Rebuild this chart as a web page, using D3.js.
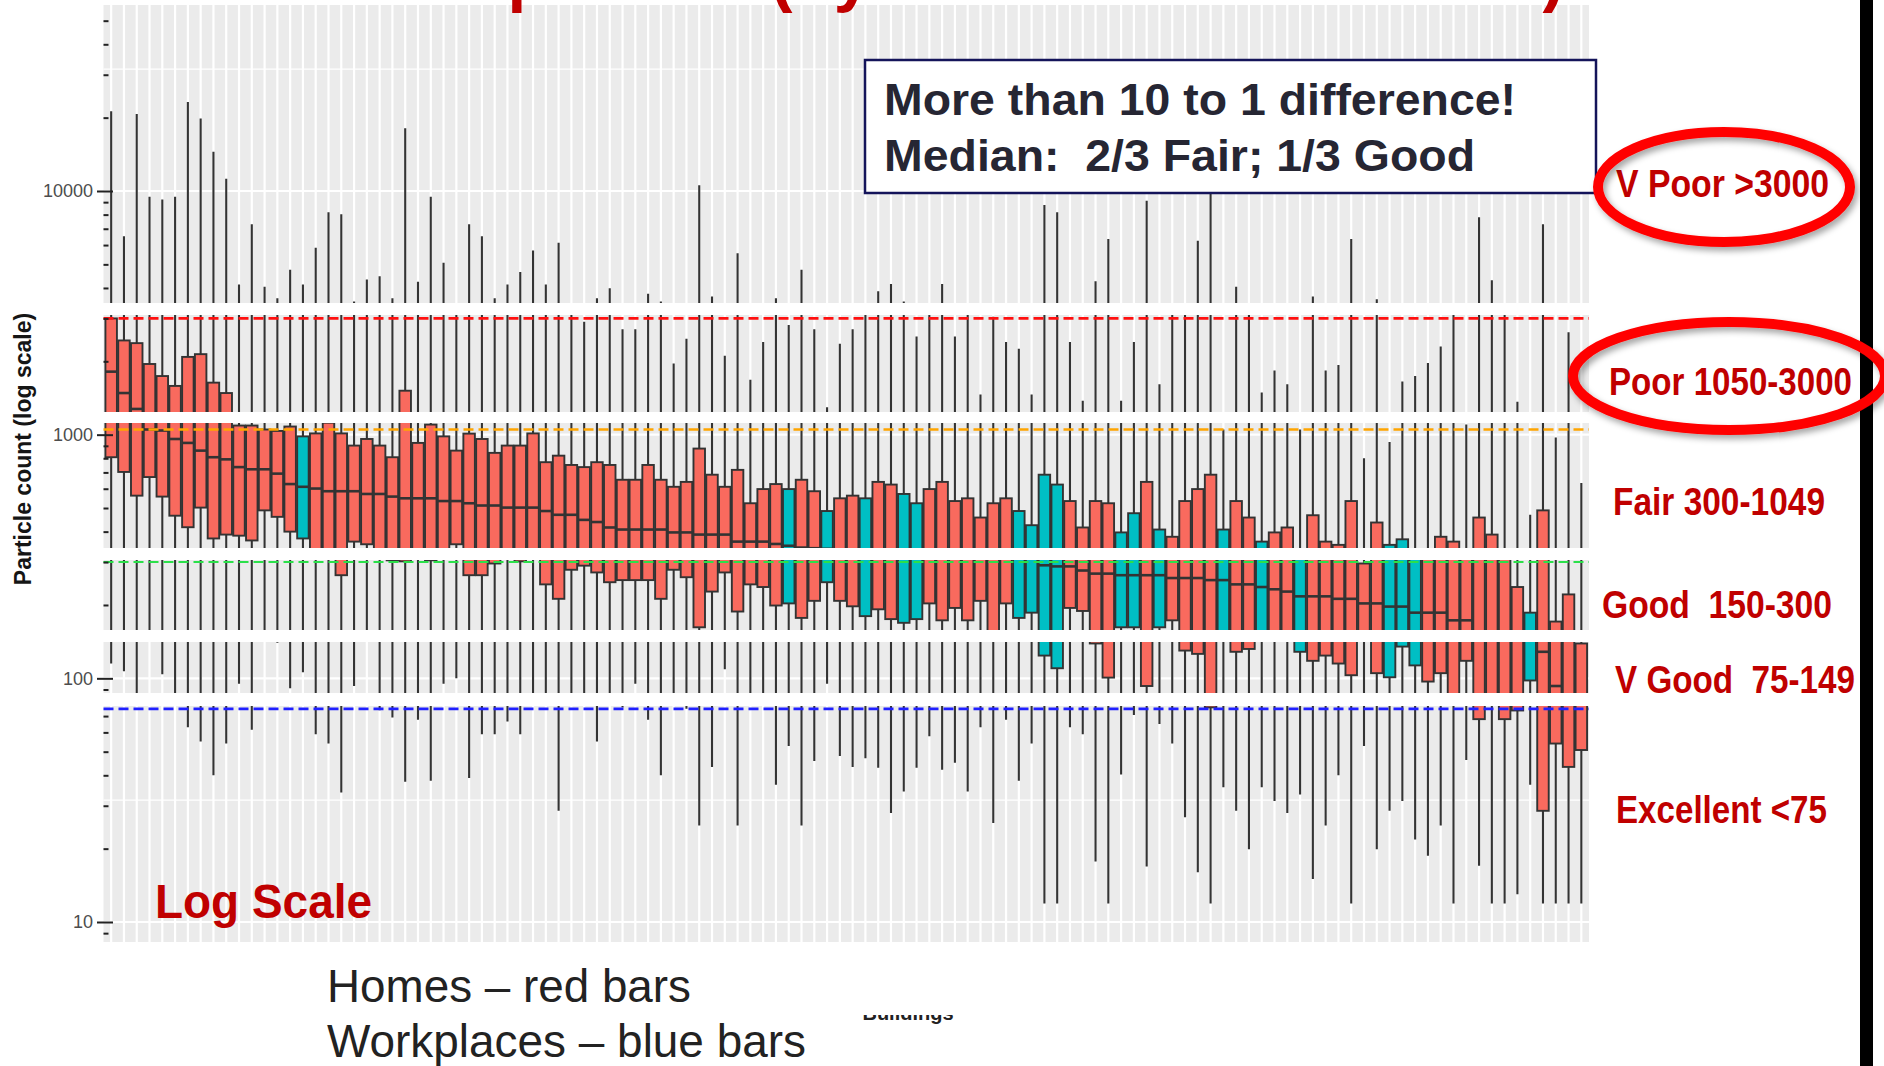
<!DOCTYPE html>
<html>
<head>
<meta charset="utf-8">
<script src="https://cdn.jsdelivr.net/npm/d3@7"></script>
<style>
  html, body { margin: 0; padding: 0; background: #fff; overflow: hidden; }
  svg { display: block; }
</style>
</head>
<body>
<svg id="chart" width="1884" height="1066"></svg>
<script>
// boxes, one per building, sorted by median particle count
// H = home (red), W = workplace (teal)
var siteType = ("HHHHHHHHHH" + "HHHHHWHHHH" + "HHHHHHHHHH" + "HHHHHHHHHH" + "HHHHHHHHHH" +
                "HHHWHHWHHW" + "HHWWHHHHHH" + "HWWWWHHHHW" + "WHWHHHHWHH" + "WHHWHHHHHH" +
                "WWWHHHHHHH" + "HWHHHH").split("");

var whiskerHigh = [21250, 6520, 20700, 9470, 9220, 9470, 23200, 19850, 14480, 11230,
  4130, 7310, 4045, 3630, 4750, 4130, 5850, 8190, 8020, 3520,
  4330, 4470, 3630, 18080, 4240, 9470, 5080, 3200, 7310, 6520,
  3630, 4130, 4650, 5700, 4130, 6130, 3150, 2905, 3630, 3985,
  2705, 2705, 3785, 3520, 1960, 2475, 10560, 3688, 2108, 5553,
  1679, 2399, 3630, 2818, 4750, 2705, 1295, 2362, 2705, 3250,
  3880, 4155, 3520, 2527, 3100, 4155, 2527, 3300, 1460, 3050,
  2399, 2254, 1460, 8760, 8190, 2399, 1378, 4265, 6350, 1378,
  2399, 9130, 1610, 3150, 3250, 6250, 12000, 1050, 4045, 3100,
  1490, 1832, 1610, 1050, 3688, 1832, 1930, 6350, 800, 3593,
  934, 1652, 1740, 1970, 2301, 3200, 1100, 7810, 4305, 3150,
  1365, 469, 7310, 974, 2633, 634];

var boxHigh = [3000, 2436, 2375, 1950, 1740, 1585, 2085, 2140, 1635, 1482,
  1090, 1090, 1050, 1036, 1080, 984, 1012, 1120, 1012, 902,
  960, 902, 808, 1515, 925, 1100, 984, 860, 1010, 960,
  842, 902, 902, 1012, 771, 820, 751, 736, 771, 751,
  653, 653, 751, 653, 611, 640, 877, 685, 611, 717,
  523, 598, 627, 598, 653, 586, 486, 548, 562, 548,
  640, 624, 571, 523, 598, 640, 534, 548, 457, 523,
  548, 486, 425, 685, 624, 534, 416, 534, 523, 397,
  476, 640, 408, 381, 534, 598, 685, 408, 534, 457,
  364, 397, 416, 330, 467, 364, 353, 534, 296, 436,
  353, 372, 320, 330, 381, 364, 320, 457, 389, 320,
  237, 186, 489, 171, 221, 139];

var medians = [1814, 1482, 1275, 1050, 1040, 960, 925, 860, 808, 792,
  736, 721, 721, 692, 627, 611, 601, 586, 586, 586,
  571, 571, 557, 548, 548, 548, 534, 534, 523, 512,
  512, 502, 502, 502, 486, 469, 469, 447, 438, 416,
  408, 408, 408, 408, 397, 397, 389, 389, 389, 364,
  364, 364, 356, 350, 344, 342, 340, 338, 338, 335,
  332, 330, 328, 326, 325, 322, 320, 318, 317, 315,
  314, 313, 311, 291, 288, 288, 277, 269, 269, 265,
  265, 265, 265, 258, 258, 258, 253, 253, 243, 243,
  237, 232, 227, 217, 217, 217, 212, 212, 203, 203,
  197, 197, 186, 186, 186, 173, 173, 155, 152, 150,
  148, 145, 128.5, 93, 85, 82];

var boxLow = [808, 703, 562, 670, 557, 465, 417, 502, 375, 389,
  385, 368, 489, 460, 400, 375, 330, 330, 265, 364,
  355, 330, 305, 302, 320, 305, 325, 355, 265, 265,
  296, 320, 302, 320, 243, 212, 279, 290, 272, 248,
  253, 253, 253, 212, 279, 260, 162, 227, 272, 188,
  243, 237, 199, 203, 177, 208, 248, 208, 197.5, 180,
  192, 175, 169, 175, 203, 173, 194.5, 173, 208, 150,
  203, 177, 186, 124, 110, 194.5, 189, 139, 100.7, 162,
  162, 93, 162, 173, 130, 126, 76, 150, 128.5, 132,
  150, 150, 148, 128.5, 118, 124, 115, 103, 150, 105,
  101, 135, 113, 97, 105, 85, 118, 68, 85, 68,
  73.8, 98, 28.6, 54, 43.3, 50.8];

var whiskerLow = [115, 107, 82, 142, 104, 80, 63, 55, 40, 54,
  95, 61.5, 150, 140, 91, 106, 59, 54, 34, 93,
  145, 74, 69, 37.6, 67.6, 38, 95, 100, 39, 59,
  59, 66.5, 59, 80, 80, 28.6, 80, 80, 55, 80,
  76, 95, 67.6, 40, 80, 75, 24.9, 43.3, 109, 24.9,
  80, 80, 36.6, 52.7, 24.9, 45.8, 95, 48, 43.3, 47,
  43, 28, 34.3, 43, 57.8, 42.2, 45, 34.3, 63, 25.5,
  67.6, 38, 54, 11.9, 11.9, 63, 59, 17.7, 11.9, 40.3,
  70.8, 16.9, 64.9, 54, 26.9, 16, 11.9, 35.7, 28.6, 19.9,
  35.7, 31.4, 28, 33.4, 15, 24.9, 40, 11.9, 52.7, 19.9,
  28.6, 31.4, 21.8, 18.7, 24.9, 11.9, 46.2, 17, 11.9, 11.9,
  13, 36.6, 11.9, 11.9, 11.9, 11.9];

var buildingIds = d3.range(1, siteType.length + 1);

var yTicks = [10, 100, 1000, 10000];
var limitValues = [3000, 1050, 300, 75];
var zoneLabels = ["V Poor >3000", "Poor 1050-3000", "Fair 300-1049",
                  "Good  150-300", "V Good  75-149", "Excellent <75"];
var noteLines = ["More than 10 to 1 difference!", "Median:  2/3 Fair; 1/3 Good"];
var legendLines = ["Homes \u2013 red bars", "Workplaces \u2013 blue bars"];

// ---- layout ----
var panel = {left: 103.5, right: 1589, top: 5, bottom: 942};
var limitColors = ["#FF1010", "#FFA500", "#2BE04A", "#2020FF"];
// white strips of the slide laid across the plot
var strips = [[303, 315], [412, 423], [548, 560], [630, 642], [693, 706]];
var fillColor = {H: "#F96A5E", W: "#00BFC4"};
var font = "'Liberation Sans', Arial, sans-serif";
var narrow = "'Liberation Sans Narrow', 'Liberation Sans', Arial, sans-serif";

var svg = d3.select("#chart");

var defs = svg.append("defs");
defs.append("filter").attr("id", "shadow")
    .attr("x", "-20%").attr("y", "-30%").attr("width", "140%").attr("height", "160%")
  .append("feDropShadow")
    .attr("dx", 3).attr("dy", 4).attr("stdDeviation", 3)
    .attr("flood-color", "#000").attr("flood-opacity", 0.35);

var x = d3.scalePoint().domain(buildingIds).range([panel.left, panel.right]).padding(0.6);
var y = d3.scaleLog().domain([10, 10000]).range([922, 191]);
var boxW = x.step() * 0.9;

var rows = buildingIds.map(function(id, i) {
  return {id: id, type: siteType[i], hi: whiskerHigh[i], q3: boxHigh[i],
          med: medians[i], q1: boxLow[i], lo: whiskerLow[i]};
});

// panel background
svg.append("rect")
  .attr("x", panel.left).attr("y", panel.top)
  .attr("width", panel.right - panel.left).attr("height", panel.bottom - panel.top)
  .attr("fill", "#EBEBEB");

var topVal = y.invert(panel.top), botVal = y.invert(panel.bottom);
var minorGrid = [1, 2, 3, 4].map(function(k) { return Math.pow(10, k + 0.5); })
  .filter(function(v) { return v < topVal; });

var grid = svg.append("g");
grid.selectAll(".hminor").data(minorGrid).join("line")
  .attr("x1", panel.left).attr("x2", panel.right)
  .attr("y1", function(d) { return y(d); }).attr("y2", function(d) { return y(d); })
  .attr("stroke", "#fff").attr("stroke-width", 1.1);
grid.selectAll(".hmajor").data(yTicks).join("line")
  .attr("x1", panel.left).attr("x2", panel.right)
  .attr("y1", function(d) { return y(d); }).attr("y2", function(d) { return y(d); })
  .attr("stroke", "#fff").attr("stroke-width", 2.2);
grid.selectAll(".vmajor").data(buildingIds).join("line")
  .attr("x1", function(d) { return x(d); }).attr("x2", function(d) { return x(d); })
  .attr("y1", panel.top).attr("y2", panel.bottom)
  .attr("stroke", "#fff").attr("stroke-width", 2.2);

// whiskers
svg.append("g").selectAll("line").data(rows).join("line")
  .attr("x1", function(d) { return x(d.id); }).attr("x2", function(d) { return x(d.id); })
  .attr("y1", function(d) { return y(d.hi); }).attr("y2", function(d) { return y(d.lo); })
  .attr("stroke", "#333").attr("stroke-width", 2.1);

// boxes
svg.append("g").selectAll("rect").data(rows).join("rect")
  .attr("x", function(d) { return x(d.id) - boxW / 2; })
  .attr("y", function(d) { return y(d.q3); })
  .attr("width", boxW)
  .attr("height", function(d) { return y(d.q1) - y(d.q3); })
  .attr("fill", function(d) { return fillColor[d.type]; })
  .attr("stroke", "#333").attr("stroke-width", 1.9);

// medians
svg.append("g").selectAll("line").data(rows).join("line")
  .attr("x1", function(d) { return x(d.id) - boxW / 2; })
  .attr("x2", function(d) { return x(d.id) + boxW / 2; })
  .attr("y1", function(d) { return y(d.med); }).attr("y2", function(d) { return y(d.med); })
  .attr("stroke", "#333").attr("stroke-width", 2.6);

// limit lines
svg.append("g").selectAll("line").data(limitValues).join("line")
  .attr("x1", panel.left).attr("x2", panel.right)
  .attr("y1", function(d) { return y(d); }).attr("y2", function(d) { return y(d); })
  .attr("stroke", function(d, i) { return limitColors[i]; })
  .attr("stroke-width", function(d, i) { return i == 2 ? 2 : 2.7; })
  .attr("stroke-dasharray", "10,5");

// y axis
var yAxis = d3.axisLeft(y).tickValues(yTicks).tickFormat(d3.format("d"))
  .tickSize(16).tickPadding(4);
var gy = svg.append("g").attr("transform", "translate(113,0)").call(yAxis);
gy.select(".domain").remove();
gy.selectAll("line").attr("stroke", "#222").attr("stroke-width", 2);
gy.selectAll("text").attr("fill", "#4D4D4D").style("font-size", "18px").style("font-family", font);

var minorTicks = d3.scaleLog().domain([botVal, topVal]).ticks()
  .filter(function(v) { return yTicks.indexOf(v) < 0; });
var yMinor = d3.axisLeft(y).tickValues(minorTicks).tickFormat(function() { return ""; }).tickSize(5);
var gm = svg.append("g").attr("transform", "translate(108.5,0)").call(yMinor);
gm.select(".domain").remove();
gm.selectAll("line").attr("stroke", "#222").attr("stroke-width", 2);

// white slide strips over the plot
svg.append("g").selectAll("rect").data(strips).join("rect")
  .attr("x", 99).attr("y", function(d) { return d[0]; })
  .attr("width", panel.right - 99 + 2).attr("height", function(d) { return d[1] - d[0]; })
  .attr("fill", "#fff");

// y title
svg.append("text")
  .attr("transform", "translate(31,449) rotate(-90)")
  .attr("text-anchor", "middle")
  .style("font-family", font).style("font-weight", "bold").style("font-size", "23px")
  .attr("fill", "#151515")
  .text("Particle count (log scale)");

// slide title, cut off at the top edge
svg.append("text")
  .attr("x", 95).attr("y", -2)
  .attr("textLength", 1470).attr("lengthAdjust", "spacingAndGlyphs")
  .style("font-family", font).style("font-weight", "bold").style("font-size", "70px")
  .attr("fill", "#C00000")
  .text("Particle Comparison (by Median Indoor Level)");

// x title fragment, mostly hidden by the text box below
svg.append("text")
  .attr("x", 908).attr("y", 1020).attr("text-anchor", "middle")
  .style("font-family", font).style("font-weight", "bold").style("font-size", "20px")
  .attr("fill", "#222")
  .text("Buildings");
svg.append("rect").attr("x", 840).attr("y", 960).attr("width", 150).attr("height", 55).attr("fill", "#fff");

// note box
svg.append("rect")
  .attr("x", 865).attr("y", 60).attr("width", 731).attr("height", 133)
  .attr("fill", "#fff").attr("stroke", "#14145A").attr("stroke-width", 2.5);
var noteLayout = [{x: 884, y: 115, w: 632}, {x: 884, y: 171, w: 591}];
svg.append("g").selectAll("text").data(noteLines).join("text")
  .attr("x", function(d, i) { return noteLayout[i].x; })
  .attr("y", function(d, i) { return noteLayout[i].y; })
  .attr("textLength", function(d, i) { return noteLayout[i].w; })
  .attr("lengthAdjust", "spacingAndGlyphs")
  .style("white-space", "pre")
  .style("font-family", font).style("font-weight", "bold").style("font-size", "45px")
  .attr("fill", "#262633")
  .text(function(d) { return d; });

// Log Scale label
svg.append("text")
  .attr("x", 155).attr("y", 918)
  .attr("textLength", 217).attr("lengthAdjust", "spacingAndGlyphs")
  .style("font-family", font).style("font-weight", "bold").style("font-size", "48px")
  .attr("fill", "#C00000")
  .text("Log Scale");

// black bar at the right of the slide
svg.append("rect").attr("x", 1860).attr("y", 0).attr("width", 13).attr("height", 1066).attr("fill", "#000");

// zone labels on the right
var zoneLayout = [{x: 1616, y: 197, w: 213}, {x: 1609, y: 395, w: 243}, {x: 1613, y: 515, w: 212},
                  {x: 1602, y: 618, w: 230}, {x: 1615, y: 693, w: 240}, {x: 1616, y: 823, w: 211}];
svg.append("g").selectAll("text").data(zoneLabels).join("text")
  .attr("x", function(d, i) { return zoneLayout[i].x; })
  .attr("y", function(d, i) { return zoneLayout[i].y; })
  .attr("textLength", function(d, i) { return zoneLayout[i].w; })
  .attr("lengthAdjust", "spacingAndGlyphs")
  .style("white-space", "pre")
  .style("font-family", narrow).style("font-weight", "bold").style("font-size", "38px")
  .attr("fill", "#C00000")
  .text(function(d) { return d; });

// red rings round the two worst zones
var rings = [{cx: 1724, cy: 187, rx: 126, ry: 55}, {cx: 1729, cy: 376, rx: 156, ry: 54}];
svg.append("g").selectAll("ellipse").data(rings).join("ellipse")
  .attr("cx", function(d) { return d.cx; }).attr("cy", function(d) { return d.cy; })
  .attr("rx", function(d) { return d.rx; }).attr("ry", function(d) { return d.ry; })
  .attr("fill", "none").attr("stroke", "#FF0000").attr("stroke-width", 10)
  .attr("filter", "url(#shadow)");

// legend text
var legendLayout = [{x: 327, y: 1002, w: 364}, {x: 327, y: 1057, w: 479}];
svg.append("g").selectAll("text").data(legendLines).join("text")
  .attr("x", function(d, i) { return legendLayout[i].x; })
  .attr("y", function(d, i) { return legendLayout[i].y; })
  .attr("textLength", function(d, i) { return legendLayout[i].w; })
  .attr("lengthAdjust", "spacingAndGlyphs")
  .style("font-family", font).style("font-size", "46px")
  .attr("fill", "#222")
  .text(function(d) { return d; });
</script>
</body>
</html>
